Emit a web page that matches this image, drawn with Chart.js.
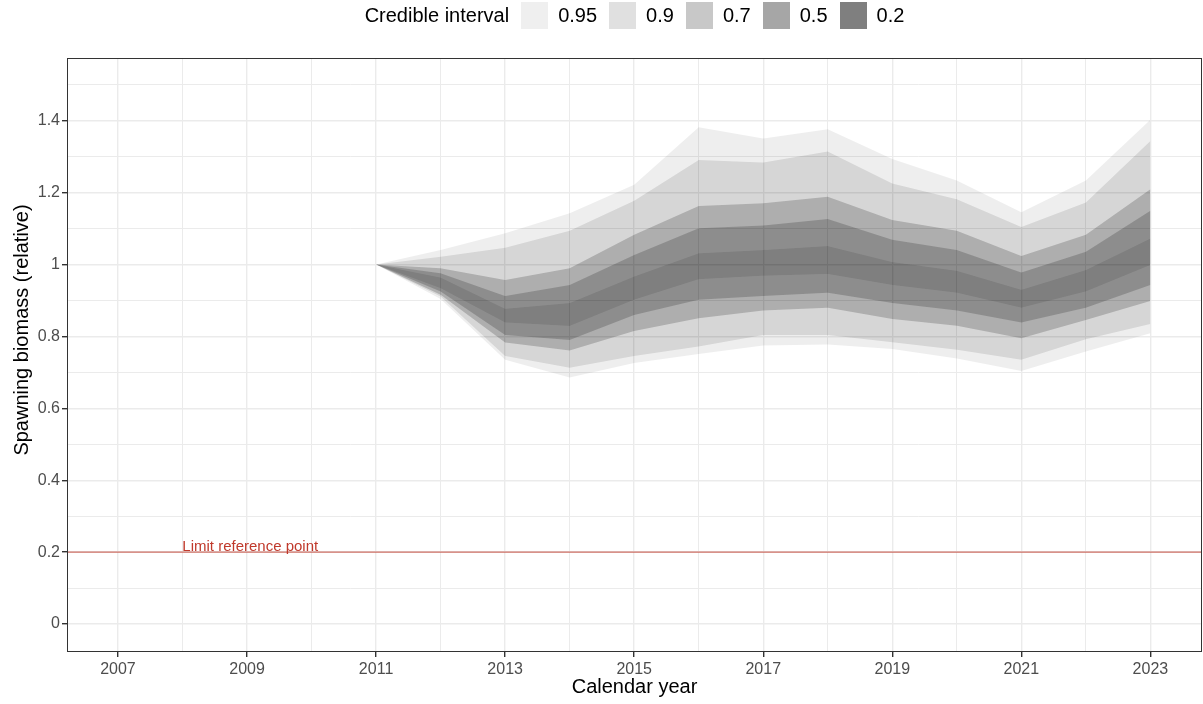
<!DOCTYPE html>
<html>
<head>
<meta charset="utf-8">
<script src="https://cdn.jsdelivr.net/npm/chart.js@4.4.1/dist/chart.umd.min.js"></script>
<style>
  html, body { margin: 0; padding: 0; background: #fff; }
  #wrap { position: relative; width: 1203px; height: 704px; }
  #chart { position: absolute; left: 0; top: 0; }
  #legend {
    position: absolute; left: 67px; top: 2px; width: 1135px; height: 27px;
    display: flex; align-items: center; justify-content: center;
    font-family: 'Liberation Sans', Arial, sans-serif; font-size: 20px; color: #000;
  }
  #legend .ttl { margin-right: 12px; }
  #legend .sw { width: 27px; height: 27px; margin-right: 10px; }
  #legend .lb { margin-right: 12px; }
  #legend .lb:last-child { margin-right: 0; }
</style>
</head>
<body>
<div id="wrap">
  <canvas id="chart" width="1203" height="704"></canvas>
  <div id="legend"></div>
</div>
<script>
var YEARS = [2007, 2008, 2009, 2010, 2011, 2012, 2013, 2014, 2015, 2016, 2017, 2018, 2019, 2020, 2021, 2022, 2023];

var LOWER_95 = [1, 1, 1, 1, 1, 0.904, 0.735, 0.686, 0.726, 0.751, 0.775, 0.778, 0.765, 0.739, 0.704, 0.758, 0.809];
var LOWER_90 = [1, 1, 1, 1, 1, 0.911, 0.746, 0.713, 0.746, 0.772, 0.804, 0.804, 0.784, 0.763, 0.735, 0.792, 0.835];
var LOWER_70 = [1, 1, 1, 1, 1, 0.916, 0.783, 0.761, 0.815, 0.851, 0.872, 0.880, 0.849, 0.830, 0.795, 0.846, 0.899];
var LOWER_50 = [1, 1, 1, 1, 1, 0.925, 0.804, 0.790, 0.860, 0.902, 0.913, 0.922, 0.893, 0.872, 0.839, 0.880, 0.943];
var LOWER_20 = [1, 1, 1, 1, 1, 0.934, 0.839, 0.829, 0.902, 0.959, 0.969, 0.974, 0.943, 0.922, 0.880, 0.925, 0.999];
var UPPER_20 = [1, 1, 1, 1, 1, 0.964, 0.877, 0.893, 0.967, 1.032, 1.041, 1.052, 1.007, 0.983, 0.930, 0.985, 1.073];
var UPPER_50 = [1, 1, 1, 1, 1, 0.976, 0.913, 0.943, 1.027, 1.101, 1.109, 1.127, 1.069, 1.041, 0.978, 1.036, 1.150];
var UPPER_70 = [1, 1, 1, 1, 1, 0.990, 0.957, 0.990, 1.083, 1.163, 1.171, 1.189, 1.124, 1.094, 1.024, 1.083, 1.210];
var UPPER_90 = [1, 1, 1, 1, 1, 1.022, 1.047, 1.094, 1.178, 1.291, 1.284, 1.315, 1.226, 1.182, 1.105, 1.173, 1.344];
var UPPER_95 = [1, 1, 1, 1, 1, 1.041, 1.087, 1.143, 1.222, 1.382, 1.351, 1.377, 1.294, 1.234, 1.146, 1.234, 1.403];

var INTERVALS = ['0.95', '0.9', '0.7', '0.5', '0.2'];
var X_TICKS = [2007, 2008, 2009, 2010, 2011, 2012, 2013, 2014, 2015, 2016, 2017, 2018, 2019, 2020, 2021, 2022, 2023];
var Y_TICKS = [0, 0.1, 0.2, 0.3, 0.4, 0.5, 0.6, 0.7, 0.8, 0.9, 1, 1.1, 1.2, 1.3, 1.4, 1.5];
var LIMIT_REF = 0.2;
var LIMIT_LABEL = 'Limit reference point';
var LIMIT_LABEL_YEAR = 2009.05;
var Y_TITLE = 'Spawning biomass (relative)';

(function() {
  'use strict';

  var FONT = "'Liberation Sans', Arial, sans-serif";
  // band fills overlap, so each one only adds a little darkness
  var BAND_FILLS = ['rgba(0,0,0,0.067)', 'rgba(0,0,0,0.10)', 'rgba(0,0,0,0.187)', 'rgba(0,0,0,0.19)', 'rgba(0,0,0,0.10)'];
  var KEY_FILLS = ['#EFEFEF', '#E0E0E0', '#C8C8C8', '#A6A6A6', '#7F7F7F'];
  var bands = [
    [UPPER_95, LOWER_95], [UPPER_90, LOWER_90], [UPPER_70, LOWER_70],
    [UPPER_50, LOWER_50], [UPPER_20, LOWER_20]
  ];

  function points(arr) {
    return YEARS.map(function(yr, i) { return { x: yr, y: arr[i] }; });
  }

  var datasets = [];
  bands.forEach(function(b, i) {
    datasets.push({ data: points(b[0]), fill: '+1', backgroundColor: BAND_FILLS[i], borderWidth: 0, pointRadius: 0 });
    datasets.push({ data: points(b[1]), fill: false, borderWidth: 0, pointRadius: 0 });
  });

  function isMinorYear(v) { return v % 2 === 0; }
  function isMinorY(v) { return Math.round(v * 10) % 2 !== 0; }

  var legend = document.getElementById('legend');
  var html = '<span class="ttl">Credible interval</span>';
  INTERVALS.forEach(function(lab, i) {
    html += '<span class="sw" style="background:' + KEY_FILLS[i] + '"></span><span class="lb">' + lab + '</span>';
  });
  legend.innerHTML = html;

  var panelPlugin = {
    id: 'panel',
    afterDatasetsDraw: function(chart) {
      var ctx = chart.ctx;
      var a = chart.chartArea;
      var ys = chart.scales.y.getPixelForValue(LIMIT_REF);
      ctx.save();
      ctx.strokeStyle = 'rgba(192,57,43,0.7)';
      ctx.lineWidth = 1.2;
      ctx.beginPath();
      ctx.moveTo(a.left, ys);
      ctx.lineTo(a.right, ys);
      ctx.stroke();
      ctx.fillStyle = '#C0392B';
      ctx.font = '15px ' + FONT;
      ctx.textAlign = 'center';
      ctx.textBaseline = 'alphabetic';
      ctx.fillText(LIMIT_LABEL, chart.scales.x.getPixelForValue(LIMIT_LABEL_YEAR), ys - 1.5);
      ctx.strokeStyle = '#333333';
      ctx.lineWidth = 1;
      ctx.strokeRect(a.left + 0.5, a.top + 0.5, a.right - a.left - 1, a.bottom - a.top - 1);
      // y axis title, sits a little above the panel middle like the source
      ctx.translate(22, 330);
      ctx.rotate(-Math.PI / 2);
      ctx.fillStyle = '#000';
      ctx.font = '20px ' + FONT;
      ctx.textBaseline = 'middle';
      ctx.fillText(Y_TITLE, 0, 0);
      ctx.restore();
    }
  };

  new Chart(document.getElementById('chart'), {
    type: 'line',
    data: { datasets: datasets },
    options: {
      responsive: false,
      animation: false,
      devicePixelRatio: 1,
      layout: { padding: { top: 58, right: 1, left: 0, bottom: 0 } },
      plugins: { legend: { display: false }, tooltip: { enabled: false }, filler: { propagate: false } },
      elements: { line: { tension: 0 } },
      scales: {
        x: {
          type: 'linear',
          min: 2006.21,
          max: 2023.8,
          afterBuildTicks: function(scale) { scale.ticks = X_TICKS.map(function(v) { return { value: v }; }); },
          afterFit: function(scale) { scale.height = 52; },
          border: { display: false },
          grid: {
            color: '#EBEBEB',
            lineWidth: function(c) { return c.tick && isMinorYear(c.tick.value) ? 1 : 1.4; },
            tickLength: 5,
            tickColor: function(c) { return c.tick && isMinorYear(c.tick.value) ? 'rgba(0,0,0,0)' : '#333333'; }
          },
          ticks: {
            autoSkip: false, maxRotation: 0, padding: 3,
            color: '#4D4D4D', font: { family: FONT, size: 16 },
            callback: function(v) { return isMinorYear(v) ? '' : String(v); }
          },
          title: { display: true, text: 'Calendar year', color: '#000', font: { family: FONT, size: 20 }, padding: { top: 0, bottom: 5 } }
        },
        y: {
          min: -0.078,
          max: 1.575,
          afterBuildTicks: function(scale) { scale.ticks = Y_TICKS.map(function(v) { return { value: v }; }); },
          afterFit: function(scale) { scale.width = 67; },
          border: { display: false },
          grid: {
            color: '#EBEBEB',
            lineWidth: function(c) { return c.tick && isMinorY(c.tick.value) ? 1 : 1.4; },
            tickLength: 5,
            tickColor: function(c) { return c.tick && isMinorY(c.tick.value) ? 'rgba(0,0,0,0)' : '#333333'; }
          },
          ticks: {
            autoSkip: false, padding: 2,
            color: '#4D4D4D', font: { family: FONT, size: 16 },
            callback: function(v) { return isMinorY(v) ? '' : String(parseFloat(v.toFixed(1))); }
          },
          title: { display: false }
        }
      }
    },
    plugins: [panelPlugin]
  });
})();
</script>
</body>
</html>
